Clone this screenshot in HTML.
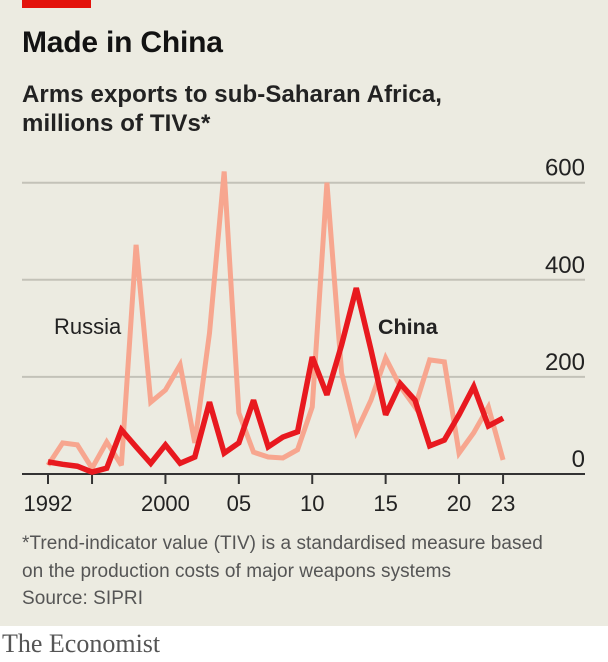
<!DOCTYPE html>
<html><head><meta charset="utf-8"><style>
body{margin:0;background:#fff;}
#wrap{position:relative;width:608px;height:662px;background:#fff;font-family:"Liberation Sans",sans-serif;}
#panel{position:absolute;left:0;top:0;width:608px;height:626px;background:#ecebe1;}
.t{position:absolute;color:#121212;white-space:nowrap;}
</style></head><body>
<div id="wrap">
<div id="panel"></div>
<div style="position:absolute;left:22px;top:0;width:69px;height:8px;background:#e3120b"></div>
<div class="t" style="left:22px;top:26px;font-size:30px;font-weight:bold;letter-spacing:-0.2px">Made in China</div>
<div class="t" style="left:22px;top:80px;font-size:24px;font-weight:bold;line-height:29px;color:#222;letter-spacing:0.1px">Arms exports to sub-Saharan Africa,<br>millions of TIVs*</div>
<svg id="ch" width="608" height="520" style="position:absolute;left:0;top:0"></svg>
<div class="t" style="left:22px;top:530px;font-size:19px;line-height:27.5px;color:#555;letter-spacing:0.05px">*Trend-indicator value (TIV) is a standardised measure based<br>on the production costs of major weapons systems<br>Source: SIPRI</div>
<div class="t" style="left:2px;top:629px;font-family:'Liberation Serif',serif;font-size:26px;color:#555">The Economist</div>
</div>
<script>
const years=[1992,1993,1994,1995,1996,1997,1998,1999,2000,2001,2002,2003,2004,2005,2006,2007,2008,2009,2010,2011,2012,2013,2014,2015,2016,2017,2018,2019,2020,2021,2022,2023];
const russia=[18,64,60,12,66,18,472,148,173,225,64,290,623,126,45,35,33,50,138,600,208,87,152,239,180,138,235,231,43,85,138,29];
const china=[25,20,16,4,12,91,56,22,60,22,35,148,43,64,152,56,76,87,241,163,266,383,256,122,186,152,58,70,122,180,99,115];
const yTicks=[0,200,400,600];
const xTicks=[1992,1995,2000,2005,2010,2015,2020,2023];
const xLabels=["1992","","2000","05","10","15","20","23"];
const NS="http://www.w3.org/2000/svg";
const svg=document.getElementById('ch');
const x=y=>48+(y-1992)*14.68;
const yv=v=>474-v*0.4855;
function mk(t,a){const e=document.createElementNS(NS,t);for(const k in a)e.setAttribute(k,a[k]);svg.appendChild(e);return e;}
yTicks.forEach(v=>{
  if(v>0){const l=mk('line',{x1:22,x2:585,y1:yv(v),y2:yv(v),stroke:'#c3c2b8','stroke-width':2});
  
  }
  const t=mk('text',{x:585,y:yv(v)-7,'text-anchor':'end','font-size':24,fill:'#222','font-family':'Liberation Sans, sans-serif'});
  t.textContent=v;
  
  
});
const ax=mk('line',{x1:22,x2:585,y1:474,y2:474,stroke:'#333','stroke-width':2});


xTicks.forEach((yr,i)=>{
  const tk=mk('line',{x1:x(yr),x2:x(yr),y1:474,y2:484,stroke:'#333','stroke-width':2});
  
  
  if(xLabels[i]){const t=mk('text',{x:x(yr),y:511,'text-anchor':'middle','font-size':22,fill:'#222','font-family':'Liberation Sans, sans-serif'});
  t.textContent=xLabels[i];
  
  }
});
function line(vals,col,w,name){
  const p=mk('polyline',{points:vals.map((v,i)=>x(years[i])+','+yv(v)).join(' '),fill:'none',stroke:col,'stroke-width':w,'stroke-linejoin':'miter','stroke-miterlimit':3});
  
  
}
line(russia,'#f7a68f',5,'russia-line');
line(china,'#e8191f',5.5,'china-line');
const r=mk('text',{x:54,y:334,'font-size':22,fill:'#222','font-family':'Liberation Sans, sans-serif'});r.textContent='Russia';


const c=mk('text',{x:378,y:334,'font-size':21.5,'font-weight':'bold',fill:'#222','font-family':'Liberation Sans, sans-serif'});c.textContent='China';


</script>
</body></html>
